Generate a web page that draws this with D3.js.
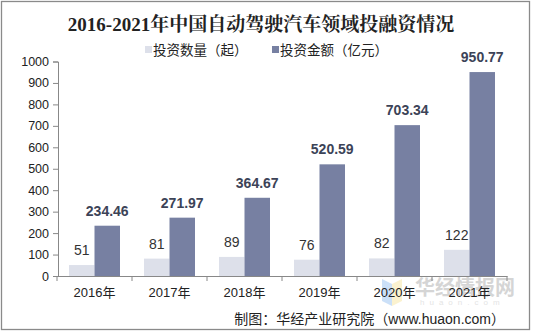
<!DOCTYPE html>
<html><head><meta charset="utf-8">
<script src="https://cdn.jsdelivr.net/npm/d3@7"></script>
<style>body{margin:0;background:#fff}svg{display:block}</style>
</head><body><svg id="c" width="533" height="334"></svg>
<script>
const categories = ["2016年","2017年","2018年","2019年","2020年","2021年"];
const seriesNames = ["投资数量（起）","投资金额（亿元）"];
const counts = [51,81,89,76,82,122];
const amounts = [234.46,271.97,364.67,520.59,703.34,950.77];
const yTicks = [0,100,200,300,400,500,600,700,800,900,1000];
const colors = ["#dde0ea","#7780a2"];

const svg = d3.select("#c");
const sans = "'Liberation Sans', Arial, 'Noto Sans CJK SC', sans-serif";
const cjk = "'Noto Sans CJK SC', sans-serif";
svg.append("rect").attr("x",1.5).attr("y",1.5).attr("width",528).attr("height",328)
  .attr("fill","#fff").attr("stroke","#8a8a8a").attr("stroke-width",1.3);

svg.append("text").attr("x",261).attr("y",31).attr("text-anchor","middle")
  .attr("font-family","'Liberation Serif','Noto Serif CJK SC','Noto Sans CJK SC',serif")
  .attr("font-weight","bold").attr("font-size",19).attr("fill","#222")
  .text("2016-2021年中国自动驾驶汽车领域投融资情况");

const x = d3.scaleBand().domain(categories).range([57,507]);
const y = d3.scaleLinear().domain([0,1000]).range([276,61.5]);
const gw = 51, bw = gw/2;
const off = (x.bandwidth()-gw)/2;

// y axis
const ya = svg.append("g").attr("transform","translate(58,0)")
  .call(d3.axisLeft(y).tickValues(yTicks).tickFormat(d3.format("d")).tickSize(5).tickPadding(4));
ya.select(".domain").attr("stroke","#888");
ya.selectAll(".tick line").attr("stroke","#888");
ya.selectAll(".tick text").attr("font-family",sans).attr("font-size",12.5).attr("fill","#222");

// bars
const g = svg.append("g");
categories.forEach((c,i)=>{
  const x0 = x(c)+off;
  g.append("rect").attr("x",x0).attr("y",y(counts[i])).attr("width",bw)
    .attr("height",y(0)-y(counts[i])).attr("fill",colors[0]);
  g.append("rect").attr("x",x0+bw).attr("y",y(amounts[i])).attr("width",bw)
    .attr("height",y(0)-y(amounts[i])).attr("fill",colors[1]);
  g.append("text").attr("x",x0+bw/2).attr("y",y(counts[i])-10).attr("text-anchor","middle")
    .attr("font-family",sans).attr("font-size",14).attr("fill","#333").text(counts[i]);
  g.append("text").attr("x",x0+bw*1.5).attr("y",y(amounts[i])-10).attr("text-anchor","middle")
    .attr("font-family",sans).attr("font-size",14).attr("font-weight","bold").attr("fill","#3c4357").text(amounts[i].toFixed(2));
});

// watermark (behind axis labels)
const wm = svg.append("g").attr("opacity",0.4);
wm.append("polygon").attr("points","382,279 392,284 392,306 382,301").attr("fill","#7fb2f0");
wm.append("polygon").attr("points","392,284 402,279 402,301 392,306").attr("fill","#f7e08a");
wm.append("text").attr("x",415).attr("y",295).attr("font-family",cjk)
  .attr("font-weight","bold").attr("font-size",20).attr("fill","#999").text("华经情报网");
wm.append("text").attr("x",420).attr("y",305).attr("font-family",sans).attr("font-size",8)
  .attr("letter-spacing",5).attr("fill","#bbb").text("huaon.com");

// x axis
const xa = svg.append("g").attr("transform","translate(0,276)")
  .call(d3.axisBottom(x).tickSize(0).tickPadding(12));
xa.select(".domain").attr("stroke","#888");
xa.selectAll(".tick text").attr("font-family",sans).attr("font-size",13).attr("fill","#222");
const edges = categories.map(c=>x(c)).concat([x.range()[1]]);
xa.selectAll(".edge").data(edges).enter().append("line")
  .attr("x1",d=>d).attr("x2",d=>d).attr("y1",0).attr("y2",5).attr("stroke","#888");

// legend
const lx = [145,272];
seriesNames.forEach((n,i)=>{
  svg.append("rect").attr("x",lx[i]).attr("y",46).attr("width",7).attr("height",7).attr("fill",colors[i]);
  svg.append("text").attr("x",lx[i]+8).attr("y",55).attr("font-family",cjk).attr("font-size",13.5)
    .attr("fill","#222").text(n);
});

const src = svg.append("text").attr("x",505).attr("y",324).attr("text-anchor","end")
  .attr("font-size",14).attr("fill","#222");
src.append("tspan").attr("font-family",cjk).text("制图：华经产业研究院（");
src.append("tspan").attr("font-family",sans).text("www.huaon.com");
src.append("tspan").attr("font-family",cjk).text("）");
</script></body></html>
